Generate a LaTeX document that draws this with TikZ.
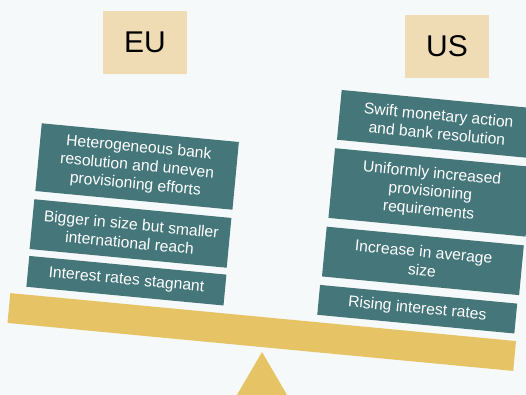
\documentclass[tikz,border=0pt]{standalone}
\usepackage{fontspec}
\setmainfont{Liberation Sans}
\definecolor{bgc}{HTML}{F6F9FA}
\definecolor{tealbox}{HTML}{44767A}
\definecolor{plankc}{HTML}{E6C466}
\definecolor{tagc}{HTML}{F0DCB4}
\begin{document}
\begin{tikzpicture}[x=1pt,y=-1pt,
  item/.style={fill=tealbox, text=white, minimum width=198pt, inner sep=0pt,
    rotate=-5.42, align=center, font=\fontsize{15.7}{18.5}\selectfont},
  tag/.style={fill=tagc, text=black, minimum width=84pt, minimum height=63pt,
    inner sep=0pt, font=\fontsize{30}{34}\selectfont},
  plank/.style={fill=plankc, minimum width=508pt, minimum height=30pt,
    inner sep=0pt, rotate=-5.42}]
\useasboundingbox (0,0) rectangle (526,395);
\clip (0,0) rectangle (526,395);
\fill[bgc] (0,0) rectangle (526,395);
% fulcrum
\coordinate (apex) at (262,352);
\fill[plankc] (apex) -- (297,412) -- (227,412) -- cycle;
% plank
\node[plank] (beam) at (261.75,332) {};
% labels
\node[tag] (eu) at (145,42.5) {EU};
\node[tag] (us) at (447,46.5) {US};
% EU side
\node[item, minimum height=68pt] (e1) at (137.1,166.5) {Heterogeneous bank\\resolution and uneven\\provisioning efforts};
\node[item, minimum height=50pt] (e2) at (130.5,233.5) {Bigger in size but smaller\\international reach};
\node[item, minimum height=31pt] (e3) at (126.4,280.7) {Interest rates stagnant};
% US side
\node[item, minimum height=50pt] (u1) at (437.9,124.2) {Swift monetary action\\and bank resolution};
\node[item, minimum height=70pt] (u2) at (430.3,192.4) {Uniformly increased\\provisioning\\requirements};
\node[item, minimum height=50pt] (u3) at (422.9,260.9) {Increase in average\\size};
\node[item, minimum height=30pt] (u4) at (417.2,309.2) {Rising interest rates};
\end{tikzpicture}
\end{document}
